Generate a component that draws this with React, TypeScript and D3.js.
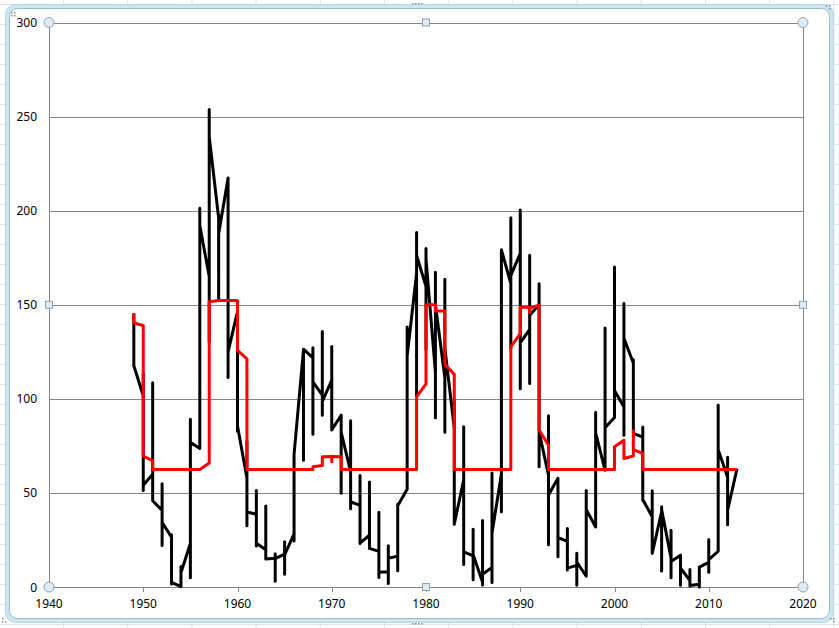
import * as d3 from "d3";

// monthly values plotted at their (integer) year; per year: first, extremes, last
const blackByYear: [number, number[]][] = [
  [1949, [145.3, 117.6]],
  [1950, [101.6, 113.4, 51.3, 54.1]],
  [1951, [59.9, 108.5, 45.8]],
  [1952, [40.7, 54.9, 22.0, 34.3]],
  [1953, [26.5, 27.8, 1.6, 2.5]],
  [1954, [0.2, 10.9, 0.2, 7.6]],
  [1955, [23.1, 89.2, 4.9, 76.9]],
  [1956, [73.6, 201.3, 192.1]],
  [1957, [165.0, 253.8, 130.2, 239.4]],
  [1958, [196, 198, 152.3, 187.6]],
  [1959, [217.4, 111.4, 125.0]],
  [1960, [146.3, 82.8, 85.6]],
  [1961, [57.9, 77.4, 32.6, 39.9]],
  [1962, [38.7, 51.3, 21.8, 23.2]],
  [1963, [19.8, 43.0, 14.9]],
  [1964, [15.3, 17.7, 3.1, 15.1]],
  [1965, [17.5, 24.1, 6.8, 17.0]],
  [1966, [28.2, 24.4, 70.4]],
  [1967, [126.0, 67.3, 126.4]],
  [1968, [121.8, 127.2, 81.2, 109.0]],
  [1969, [102.0, 135.8, 91.3, 98.5]],
  [1970, [110.0, 127.8, 83.5]],
  [1971, [91.3, 49.8, 82.2]],
  [1972, [61.5, 88.4, 41.6, 45.3]],
  [1973, [43.4, 59.3, 23.1, 23.3]],
  [1974, [27.6, 55.8, 20.5]],
  [1975, [18.9, 39.7, 5.1, 7.8]],
  [1976, [8.1, 21.9, 1.9, 15.3]],
  [1977, [16.4, 44.0, 8.7, 43.2]],
  [1978, [51.9, 138.2, 122.7]],
  [1979, [166.6, 188.4, 101.5, 176.3]],
  [1980, [159.6, 179.9, 126.2, 174.4]],
  [1981, [114.0, 167.3, 90.0, 150.1]],
  [1982, [111.2, 163.6, 82.2, 127.0]],
  [1983, [84.3, 99.2, 33.3, 33.4]],
  [1984, [57.0, 85.1, 12.0, 18.7]],
  [1985, [16.5, 30.7, 3.9, 17.3]],
  [1986, [2.5, 35.4, 1.1, 6.8]],
  [1987, [10.4, 60.6, 2.4, 28.5]],
  [1988, [60.0, 40.0, 179.2]],
  [1989, [161.3, 196.2, 126.9, 165.5]],
  [1990, [177.3, 200.3, 105.4, 129.7]],
  [1991, [136.9, 176.3, 108.2, 144.4]],
  [1992, [150.0, 161.1, 63.9, 82.6]],
  [1993, [59.3, 91.0, 22.4, 48.9]],
  [1994, [57.8, 16.1, 26.2]],
  [1995, [24.2, 31.1, 9.0, 10.0]],
  [1996, [11.5, 17.9, 0.9, 13.3]],
  [1997, [5.7, 51.3, 41.2]],
  [1998, [31.9, 92.9, 81.9]],
  [1999, [62.0, 137.7, 84.6]],
  [2000, [90.1, 170.1, 104.4]],
  [2001, [95.6, 150.7, 80.6, 132.2]],
  [2002, [119.0, 120.8, 81.6]],
  [2003, [79.7, 85.0, 46.0, 46.5]],
  [2004, [37.3, 51.1, 17.9]],
  [2005, [40.0, 42.6, 8.5, 41.2]],
  [2006, [15.3, 30.2, 4.9, 13.6]],
  [2007, [16.9, 0.9, 10.1]],
  [2008, [3.4, 9.3, 0.5, 0.8]],
  [2009, [1.5, 0.0, 10.6]],
  [2010, [13.1, 25.2, 7.9, 14.5]],
  [2011, [19.0, 96.7, 73.0]],
  [2012, [58.3, 69.0, 33.1, 40.8]],
  [2013, [62.9]],
];

const redByYear: [number, number[]][] = [
  [1949, [145.5, 140.3]],
  [1950, [139, 69.6]],
  [1951, [67.2, 62.5]],
  [1956, [62.5]],
  [1957, [65.9, 151.6]],
  [1958, [152.3]],
  [1959, [152.3]],
  [1960, [152.3, 125.7]],
  [1961, [121.3, 62.5]],
  [1967, [62.5]],
  [1968, [62.5, 63.9]],
  [1969, [64.6, 69.2]],
  [1970, [69.4, 66.5, 69.4]],
  [1971, [69.2, 62.5]],
  [1978, [62.5]],
  [1979, [62.5, 101]],
  [1980, [108, 150]],
  [1981, [150, 146.7]],
  [1982, [146.7, 118.4]],
  [1983, [113, 62.5]],
  [1988, [62.5]],
  [1989, [62.5, 127.6]],
  [1990, [134.7, 148.8]],
  [1991, [148.5, 145.7, 148.3]],
  [1992, [149.7, 83.4]],
  [1993, [75.4, 62.5]],
  [1999, [62.5]],
  [2000, [62.5, 74.5]],
  [2001, [78, 68.3]],
  [2002, [69.6, 83, 73]],
  [2003, [71, 62.5]],
  [2013, [62.5]],
];

const xTicks = [1940, 1950, 1960, 1970, 1980, 1990, 2000, 2010, 2020];
const yTicks = [0, 50, 100, 150, 200, 250, 300];

const W = 839;
const H = 628;

export default function App() {
  const x = d3.scaleLinear().domain([1940, 2020]).range([49, 803]);
  const y = d3.scaleLinear().domain([0, 300]).range([587, 22.5]);

  const flatten = (rows: [number, number[]][]) =>
    rows.flatMap(([yr, vals]) => vals.map((v) => [yr, v] as [number, number]));

  const line = d3
    .line<[number, number]>()
    .x((d) => x(d[0]))
    .y((d) => y(d[1]));

  const x0 = x(1940);
  const x1 = x(2020);
  const yTop = y(300);
  const yBot = y(0);
  const xMid = (x0 + x1) / 2;
  const yMid = (yTop + yBot) / 2;

  const font = "'Noto Sans', 'DejaVu Sans', sans-serif";

  // sheet cell lines behind the chart
  const cols = d3.range(63, W, 64.2);
  const rows = d3.range(4, H, 20);

  const circles = [
    [x0, yTop], [x1, yTop], [x0, yBot], [x1, yBot],
  ];
  const squares = [
    [xMid, yTop], [x0, yMid], [x1, yMid], [xMid, yBot],
  ];

  return (
    <div style={{ position: "fixed", left: 0, top: 0 }}>
      <svg width={W} height={H} style={{ display: "block", background: "#fff" }}>
        <g stroke="#d9e3ee" strokeWidth={1}>
          {cols.map((c) => (
            <line key={"c" + c} x1={c + 0.5} x2={c + 0.5} y1={0} y2={H} />
          ))}
          {rows.map((r) => (
            <line key={"r" + r} x1={0} x2={W} y1={r + 0.5} y2={r + 0.5} />
          ))}
        </g>

        {/* chart area frame (selected) */}
        <rect x={5.5} y={4.5} width={828} height={618} rx={10} fill="#cde6ef" stroke="#b6d6e3" />
        <rect x={9.5} y={8.5} width={820} height={610} rx={8} fill="#fff" stroke="#94bccd" />

        {/* frame grips */}
        <g fill="#7d8d99">
          {[[3, 3], [6, 3], [3, 6], [6, 6]].map(([a, b], i) => (
            <rect key={"tl" + i} x={a + 8} y={b + 9} width={1.5} height={1.5} />
          ))}
          {[0, 3, 6, 9].map((d, i) => (
            <rect key={"tm" + i} x={412 + d} y={3} width={1.5} height={1.5} />
          ))}
          {[0, 3, 6, 9].map((d, i) => (
            <rect key={"bm" + i} x={412 + d} y={623} width={1.5} height={1.5} />
          ))}
          {[[0, 0], [3, 0], [3, 3]].map(([a, b], i) => (
            <rect key={"tr" + i} x={826 + a} y={5 + b} width={1.5} height={1.5} />
          ))}
          {[[0, 0], [0, 3], [3, 3]].map(([a, b], i) => (
            <rect key={"bl" + i} x={2 + a} y={618 + b} width={1.5} height={1.5} />
          ))}
          {[[0, 0], [3, 0], [3, 3]].map(([a, b], i) => (
            <rect key={"br" + i} x={830 + a} y={618 + b} width={1.5} height={1.5} />
          ))}
        </g>

        {/* gridlines */}
        <g stroke="#868686" strokeWidth={1}>
          {yTicks.map((t) => (
            <line key={t} x1={x0} x2={x1} y1={Math.round(y(t)) + 0.5} y2={Math.round(y(t)) + 0.5} />
          ))}
          <line x1={Math.round(x0) + 0.5} x2={Math.round(x0) + 0.5} y1={yTop} y2={yBot} />
          <line x1={Math.round(x1) + 0.5} x2={Math.round(x1) + 0.5} y1={yTop} y2={yBot} />
          {xTicks.map((t) => (
            <line key={"t" + t} x1={Math.round(x(t)) + 0.5} x2={Math.round(x(t)) + 0.5} y1={yBot} y2={yBot + 5} />
          ))}
        </g>

        {/* axis labels */}
        <g fontFamily={font} fontSize={12} fill="#000">
          {yTicks.map((t) => (
            <text key={t} x={37} y={y(t)} textAnchor="end" dominantBaseline="central">
              {t}
            </text>
          ))}
          {xTicks.map((t) => (
            <text key={t} x={x(t)} y={608} textAnchor="middle">
              {t}
            </text>
          ))}
        </g>

        {/* series */}
        <path
          d={line(flatten(blackByYear)) ?? ""}
          fill="none"
          stroke="#000"
          strokeWidth={3}
          strokeLinejoin="round"
        />
        <path
          d={line(flatten(redByYear)) ?? ""}
          fill="none"
          stroke="#ff0000"
          strokeWidth={3}
          strokeLinejoin="round"
        />

        {/* selection handles */}
        <g fill="#dfeaf3" stroke="#8ba3b7" strokeWidth={1}>
          {circles.map(([cx, cy], i) => (
            <circle key={"c" + i} cx={cx} cy={cy} r={5} />
          ))}
          {squares.map(([sx, sy], i) => (
            <rect key={"s" + i} x={sx - 3.5} y={sy - 3.5} width={7} height={7} />
          ))}
        </g>
      </svg>
    </div>
  );
}
